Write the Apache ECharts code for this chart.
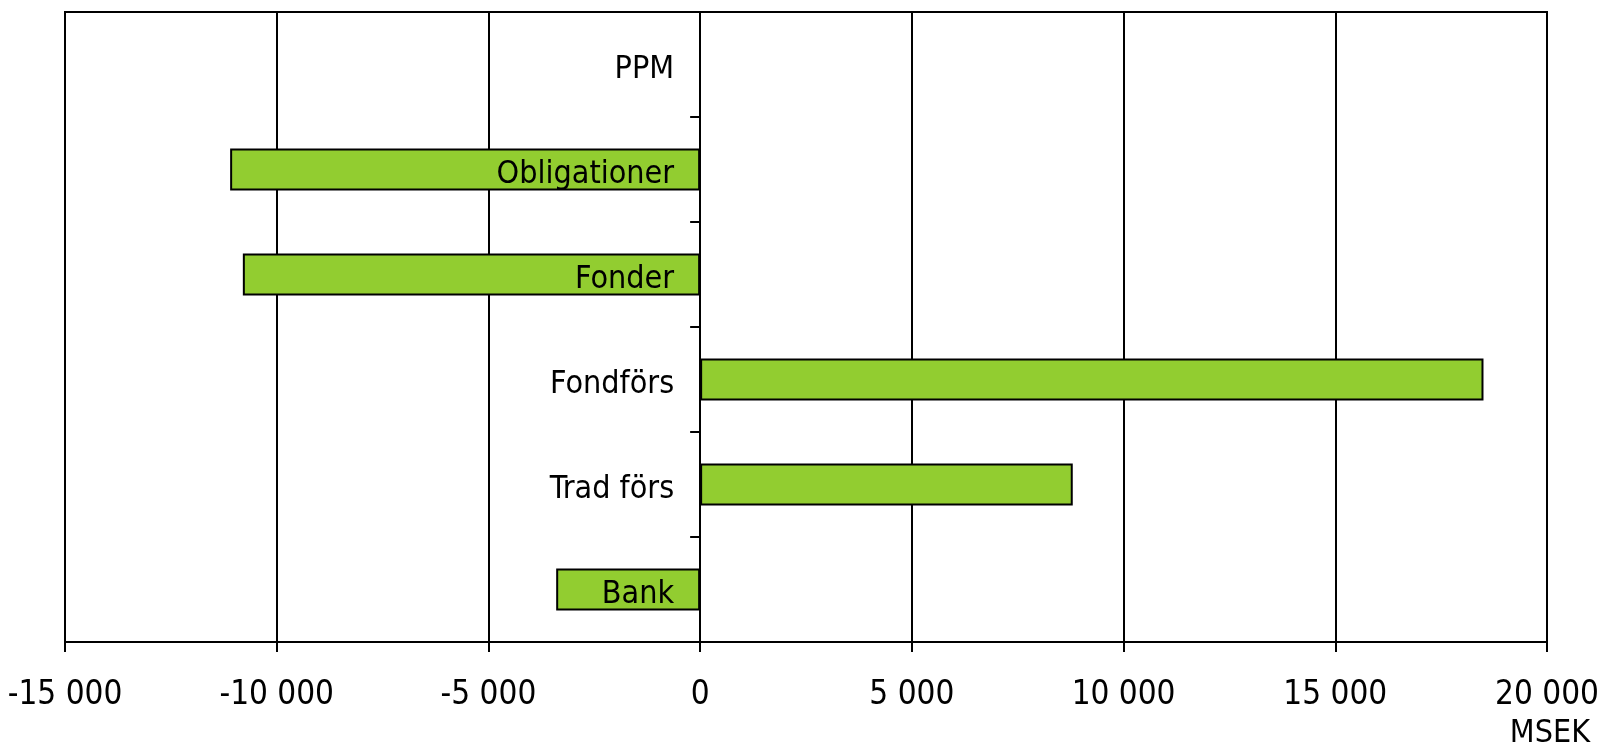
<!DOCTYPE html>
<html>
<head>
<meta charset="utf-8">
<script src="https://cdn.jsdelivr.net/npm/echarts@6/dist/echarts.min.js"></script>
<style>
  html, body { margin: 0; padding: 0; background: #fff; }
  #chart { width: 1602px; height: 748px; }
</style>
</head>
<body>
<div id="chart"></div>
<script>
// kategorier, nerifrån och upp (kategoriaxeln ritar första värdet längst ner)
var categories = ['Bank', 'Trad förs', 'Fondförs', 'Fonder', 'Obligationer', 'PPM'];
var values = [-3400, 8800, 18500, -10800, -11100, null];
var xTicks = [-15000, -10000, -5000, 0, 5000, 10000, 15000, 20000];

var FONT = '"Liberation Sans Narrow", "DejaVu Sans", sans-serif';
var STRETCH = 'normal condensed'; // hamnar i canvas font-strängen

function fmt(v) {
  var s = String(Math.abs(v)).replace(/\B(?=(\d{3})+(?!\d))/g, ' ');
  return (v < 0 ? '-' : '') + s;
}

var GRID_LEFT = 65;
var chart = echarts.init(document.getElementById('chart'));

var option = {
  backgroundColor: '#fff',
  animation: false,
  title: {
    text: 'MSEK',
    right: 7,
    top: 713,
    textStyle: { fontFamily: FONT, fontSize: 32, fontWeight: STRETCH, color: '#000' }
  },
  grid: {
    left: GRID_LEFT,
    right: 55,
    top: 12,
    bottom: 106,
    show: true,
    borderColor: '#000',
    borderWidth: 2,
    containLabel: false,
    outerBoundsMode: 'none'
  },
  xAxis: {
    type: 'value',
    min: xTicks[0],
    max: xTicks[xTicks.length - 1],
    interval: 5000,
    axisLine: { show: true, lineStyle: { color: '#000', width: 2 } },
    axisTick: { show: true, inside: false, length: 10, lineStyle: { color: '#000', width: 2 } },
    splitLine: { show: true, lineStyle: { color: '#000', width: 2 } },
    axisLabel: {
      margin: 37,
      color: '#000',
      fontFamily: FONT,
      fontWeight: STRETCH,
      fontSize: 33,
      formatter: fmt
    }
  },
  yAxis: {
    type: 'category',
    data: categories,
    z: 5,
    offset: 0,
    axisLine: { show: true, onZero: false, lineStyle: { color: '#000', width: 2 } },
    axisTick: { show: true, inside: false, length: 10, lineStyle: { color: '#000', width: 2 } },
    splitLine: { show: false },
    axisLabel: {
      margin: 26,
      color: '#000',
      formatter: function (v) { return '{c|' + v + '}'; },
      rich: {
        c: {
          padding: [10, 0, 0, 0],
          color: '#000',
          fontFamily: FONT,
          fontWeight: STRETCH,
          fontSize: 32
        }
      }
    }
  },
  series: [{
    type: 'bar',
    data: values,
    barWidth: 42,
    itemStyle: { color: '#92cd30', borderColor: '#000', borderWidth: 2 }
  }]
};

chart.setOption(option);

// flytta hela kategoriaxeln (linje, streck, etiketter) till nollan
var zeroX = chart.convertToPixel({ xAxisIndex: 0 }, 0);
chart.setOption({ yAxis: { offset: -(zeroX - GRID_LEFT) } });
</script>
</body>
</html>
